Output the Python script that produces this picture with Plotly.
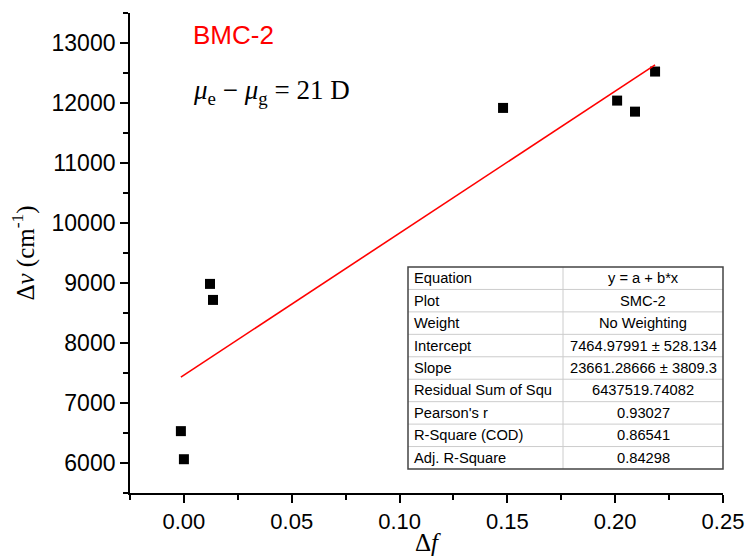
import plotly.graph_objects as go

# ---- data ----
delta_f = [-0.0014, 0.0000, 0.0121, 0.0135, 0.1480, 0.2009, 0.2092, 0.2185]
delta_nu = [6531, 6063, 8985, 8718, 11918, 12040, 11856, 12524]

intercept = 7464.97991
slope = 23661.28666

table_labels = ["Equation", "Plot", "Weight", "Intercept", "Slope",
                "Residual Sum of Squ", "Pearson's r", "R-Square (COD)", "Adj. R-Square"]
table_values = ["y = a + b*x", "SMC-2", "No Weighting", "7464.97991 ± 528.134",
                "23661.28666 ± 3809.3", "6437519.74082", "0.93027", "0.86541", "0.84298"]

x_ticks = [0.00, 0.05, 0.10, 0.15, 0.20, 0.25]
y_ticks = [6000, 7000, 8000, 9000, 10000, 11000, 12000, 13000]

# ---- layout geometry (pixels) ----
W, H = 752, 556
L, R, T, B = 130, 723, 13, 493


def px(x):
    return (x - L) / (R - L)


def py(y):
    return (B - y) / (B - T)


fig = go.Figure()

fig.add_trace(go.Scatter(
    x=delta_f, y=delta_nu, mode="markers",
    marker=dict(symbol="square", size=10, color="black"),
    showlegend=False, cliponaxis=False))

x_fit = [min(delta_f), max(delta_f)]
y_fit = [intercept + slope * v for v in x_fit]
fig.add_trace(go.Scatter(
    x=x_fit, y=y_fit, mode="lines",
    line=dict(color="#ff0000", width=1.6), showlegend=False))

# ---- table ----
tx0, tx1, ty0, ty1, tmid = 408, 723, 267, 469, 563
nrows = len(table_labels)
rh = (ty1 - ty0) / nrows
shapes = []
for i in range(1, nrows):
    yy = ty0 + i * rh
    shapes.append(dict(type="line", xref="paper", yref="paper",
                       x0=px(tx0), x1=px(tx1), y0=py(yy), y1=py(yy),
                       line=dict(color="#cccccc", width=1)))
shapes.append(dict(type="line", xref="paper", yref="paper",
                   x0=px(tmid), x1=px(tmid), y0=py(ty0), y1=py(ty1),
                   line=dict(color="#cccccc", width=1)))
shapes.append(dict(type="rect", xref="paper", yref="paper",
                   x0=px(tx0), x1=px(tx1), y0=py(ty0), y1=py(ty1),
                   line=dict(color="#444444", width=1.5), fillcolor="rgba(0,0,0,0)"))

annotations = []
tfont = dict(family="Arial, Liberation Sans", size=14.7, color="black")
for i, (lab, val) in enumerate(zip(table_labels, table_values)):
    yc = ty0 + (i + 0.5) * rh
    annotations.append(dict(xref="paper", yref="paper", x=px(tx0 + 4), y=py(yc),
                            text=lab, showarrow=False, xanchor="left", yanchor="middle",
                            font=tfont))
    annotations.append(dict(xref="paper", yref="paper", x=px((tmid + tx1) / 2), y=py(yc),
                            text=val, showarrow=False, xanchor="center", yanchor="middle",
                            font=tfont))

annotations.append(dict(xref="paper", yref="paper", x=px(191), y=py(35),
                        text="BMC-2", showarrow=False, xanchor="left", yanchor="middle",
                        font=dict(family="Arial, Liberation Sans", size=26, color="#ff0000")))
annotations.append(dict(xref="paper", yref="paper", x=px(191), y=py(92),
                        text="<i>μ</i><sub>e</sub> − <i>μ</i><sub>g</sub> = 21 D",
                        showarrow=False, xanchor="left", yanchor="middle",
                        font=dict(family="Liberation Serif, Times New Roman", size=27, color="black")))

title_font = dict(family="Liberation Serif, Times New Roman", size=25, color="black")

fig.update_layout(
    width=W, height=H,
    margin=dict(l=L, r=W - R, t=T, b=H - B, autoexpand=False),
    paper_bgcolor="white", plot_bgcolor="white",
    shapes=shapes, annotations=annotations,
    xaxis=dict(range=[-0.025, 0.25], tickvals=x_ticks,
               ticktext=[f"{v:.2f}" for v in x_ticks],
               showgrid=False, zeroline=False, showline=True, linecolor="black",
               linewidth=1.8, ticks="outside", ticklen=8, tickwidth=1.6, tickcolor="black",
               minor=dict(dtick=0.025, tick0=0, ticks="outside", ticklen=5, tickwidth=1.5,
                          tickcolor="black", showgrid=False),
               tickfont=dict(family="Arial, Liberation Sans", size=22, color="black"),
               title=dict(text="Δ<i>f</i>", font=title_font, standoff=6)),
    yaxis=dict(range=[5500, 13500], tickvals=y_ticks,
               ticktext=[str(v) for v in y_ticks],
               showgrid=False, zeroline=False, showline=True, linecolor="black",
               linewidth=1.8, ticks="outside", ticklen=8, tickwidth=1.6, tickcolor="black",
               minor=dict(dtick=500, tick0=0, ticks="outside", ticklen=5, tickwidth=1.5,
                          tickcolor="black", showgrid=False),
               tickfont=dict(family="Arial, Liberation Sans", size=23, color="black"),
               title=dict(text="Δ<i>ν</i> (cm<sup>-1</sup>)", font=title_font, standoff=10)),
)

fig.write_html("out.html")
